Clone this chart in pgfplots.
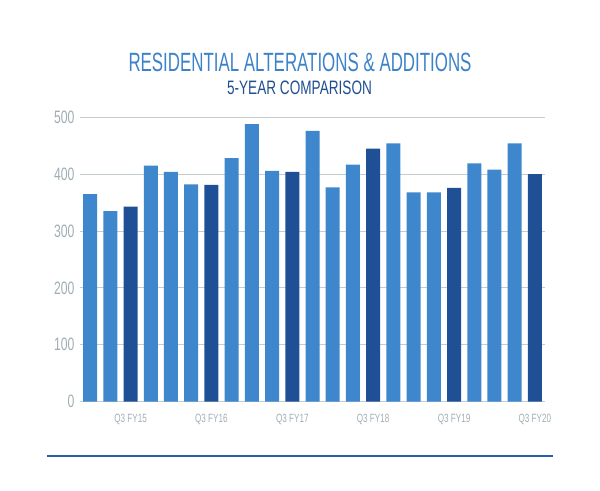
\documentclass[border=0pt]{standalone}
\usepackage{pgfplots}
\pgfplotsset{compat=1.18}
\usepackage{fontspec}
\setmainfont{Liberation Sans}
\newfontfamily\titlefont[FakeStretch=0.64]{Liberation Sans}
\newfontfamily\subfont[FakeStretch=0.70]{Liberation Sans}
\newfontfamily\tickfont[FakeStretch=0.68]{Liberation Sans}
\definecolor{lightbar}{HTML}{3F87CC}
\definecolor{darkbar}{HTML}{1F5096}
\definecolor{titleblue}{HTML}{3C82C8}
\definecolor{subblue}{HTML}{1F4E91}
\definecolor{gridc}{HTML}{C3CDCF}
\definecolor{tickc}{HTML}{A0AEB3}
\definecolor{rulec}{HTML}{2D5FA6}
\begin{document}
\begin{tikzpicture}[x=1bp,y=1bp]
\path (0,0) rectangle (600,491);
\node[anchor=base, text=titleblue, inner sep=0] at (300,419.3) {\titlefont\fontsize{26.5}{30}\selectfont RESIDENTIAL ALTERATIONS \& ADDITIONS};
\node[anchor=base, text=subblue, inner sep=0] at (299.5,396) {\subfont\fontsize{19.5}{22}\selectfont 5-YEAR COMPARISON};
\draw[rulec, line width=2.8bp] (47,35) -- (553,35);
\begin{axis}[
  at={(80bp,89.3bp)}, anchor=south west,
  scale only axis, width=465bp, height=284.4bp,
  xmin=-0.5, xmax=22.5, ymin=0, ymax=500,
  ybar, bar width=14bp, bar shift=0pt,
  axis line style={draw=none},
  major tick length=0pt,
  ymajorgrids, grid style={gridc, line width=0.9bp},
  ytick={0,100,200,300,400,500},
  xtick={2,6,10,14,18,22},
  xticklabels={Q3 FY15,Q3 FY16,Q3 FY17,Q3 FY18,Q3 FY19,Q3 FY20},
  /pgf/number format/assume math mode=true,
  yticklabel style={font=\tickfont\fontsize{18}{20}\selectfont, text=tickc, xshift=-2bp},
  xticklabel style={font=\tickfont\fontsize{12}{14}\selectfont, text=tickc, anchor=base, yshift=-20.5bp},
  clip=false,
]
\addplot[fill=lightbar, draw=none] coordinates {
(0,365) (1,335) (3,415) (4,404) (5,382) (7,428) (8,488) (9,406) (11,476) (12,377) (13,417) (15,454) (16,368) (17,368) (19,419) (20,408) (21,454)
};
\addplot[fill=darkbar, draw=none] coordinates {
(2,343) (6,381) (10,404) (14,445) (18,376) (22,400)
};
\end{axis}
\end{tikzpicture}
\end{document}
